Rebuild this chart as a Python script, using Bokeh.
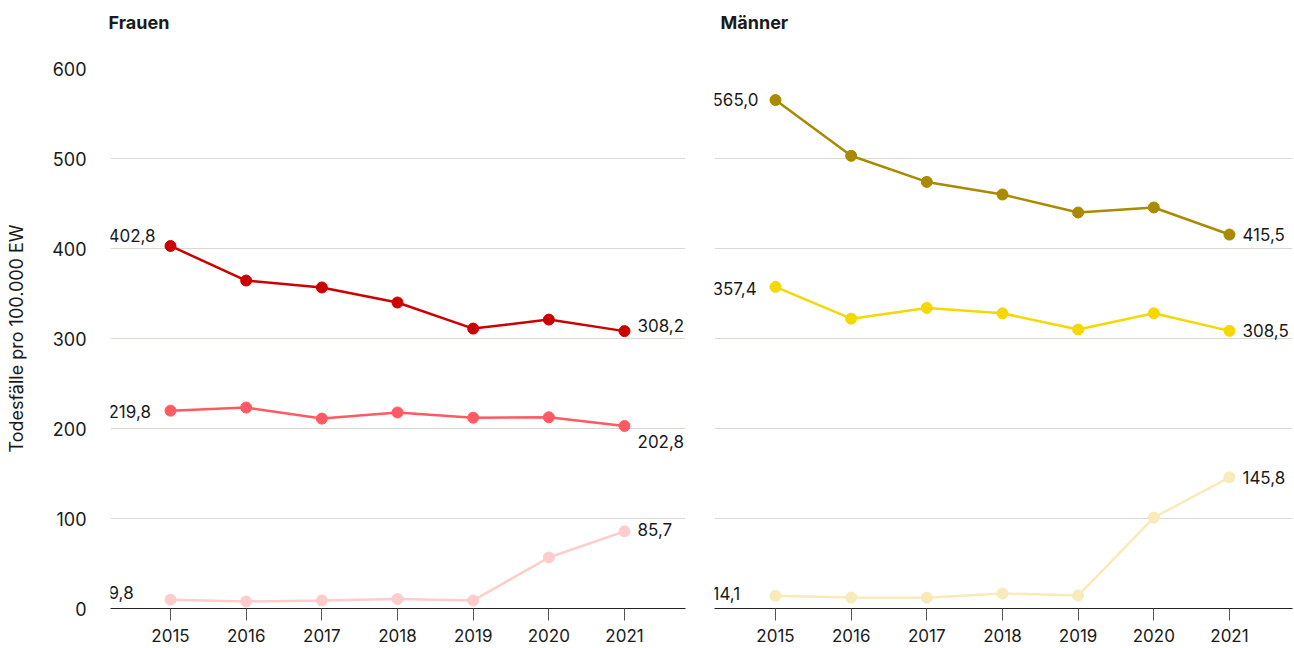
from bokeh.plotting import figure
from bokeh.layouts import row, column
from bokeh.models import ColumnDataSource, Range1d, FixedTicker
from bokeh.embed import file_html
from bokeh.resources import INLINE
from bokeh.core.properties import value

years = [2015, 2016, 2017, 2018, 2019, 2020, 2021]
year_labels = ["2015", "2016", "2017", "2018", "2019", "2020", "2021"]
y_ticks = [0, 100, 200, 300, 400, 500, 600]
panel_titles = ["Frauen", "Männer"]

frauen_oben = [402.8, 364.4, 356.7, 340.0, 311.0, 321.0, 308.2]
frauen_mitte = [219.8, 223.3, 211.0, 217.8, 212.0, 212.5, 202.8]
frauen_unten = [9.8, 7.8, 8.9, 10.5, 8.9, 56.7, 85.7]

maenner_oben = [565.0, 503.0, 474.0, 460.0, 440.0, 445.6, 415.5]
maenner_mitte = [357.4, 322.0, 334.0, 328.0, 310.0, 328.0, 308.5]
maenner_unten = [14.1, 12.2, 12.0, 16.7, 14.4, 101.0, 145.8]

FONT = "Inter"
TXT = "#1a1a1a"
GRID = "#dcd9d4"
HEAD_H = 40


def fmt(v):
    return f"{v:.1f}".replace(".", ",")


def make_head(title, width, text_left):
    h = figure(width=width, height=HEAD_H, output_backend="svg", toolbar_location=None,
               x_range=Range1d(0, width), y_range=Range1d(0, HEAD_H),
               min_border_left=0, min_border_right=0, min_border_top=0, min_border_bottom=0)
    h.axis.visible = False
    h.grid.grid_line_color = None
    h.outline_line_color = None
    h.text(x=[text_left], y=[HEAD_H], text=[title], y_offset=22,
           text_align="left", text_baseline="middle", text_font=value(FONT),
           text_font_style="bold", text_font_size="18px", text_color=TXT)
    return h


def make_fig(width, border_left, border_right, x0, x1, show_y):
    p = figure(width=width, height=648 - HEAD_H, output_backend="svg", toolbar_location=None,
               x_range=Range1d(x0, x1), y_range=Range1d(0, 600),
               min_border_left=border_left, min_border_right=border_right,
               min_border_top=68 - HEAD_H, min_border_bottom=40)
    p.outline_line_color = None
    p.background_fill_color = "white"
    p.border_fill_color = "white"

    p.xgrid.grid_line_color = None
    p.ygrid.grid_line_color = GRID
    p.ygrid.grid_line_width = 1

    xa = p.xaxis[0]
    xa.ticker = FixedTicker(ticks=years)
    xa.major_label_overrides = {y: l for y, l in zip(years, year_labels)}
    xa.axis_line_color = "#222222"
    xa.axis_line_width = 1.2
    xa.major_tick_line_color = "#555555"
    xa.major_tick_out = 12
    xa.major_tick_in = 0
    xa.minor_tick_line_color = None
    xa.major_label_standoff = 8
    xa.major_label_text_font = FONT
    xa.major_label_text_font_size = "17px"
    xa.major_label_text_color = TXT

    ya = p.yaxis[0]
    ya.ticker = FixedTicker(ticks=y_ticks)
    ya.axis_line_color = None
    ya.major_tick_line_color = None
    ya.minor_tick_line_color = None
    if show_y:
        ya.major_label_standoff = 18
        ya.major_label_text_font = FONT
        ya.major_label_text_font_size = "18px"
        ya.major_label_text_color = TXT
        ya.axis_label = "Todesfälle pro 100.000 EW"
        ya.axis_label_text_font = FONT
        ya.axis_label_text_font_style = "normal"
        ya.axis_label_text_font_size = "18px"
        ya.axis_label_text_color = TXT
        ya.axis_label_standoff = 22
    else:
        ya.visible = False
    return p


def add_series(p, vals, color, start_dy, end_dy):
    src = ColumnDataSource(dict(x=years, y=vals))
    p.line("x", "y", source=src, line_color=color, line_width=2.5)
    p.scatter("x", "y", source=src, size=11, fill_color=color, line_color=color)
    p.text(x=[p.x_range.start], y=[vals[0]], text=[fmt(vals[0])], x_offset=-2, y_offset=start_dy,
           text_align="left", text_baseline="middle", text_font=value(FONT),
           text_font_size="17px", text_color=TXT)
    p.text(x=[years[-1]], y=[vals[-1]], text=[fmt(vals[-1])], x_offset=13, y_offset=end_dy,
           text_align="left", text_baseline="middle", text_font=value(FONT),
           text_font_size="17px", text_color=TXT)


W1, W2 = 698, 596
h1 = make_head(panel_titles[0], W1, 108)
h2 = make_head(panel_titles[1], W2, 22)

p1 = make_fig(W1, 110, 13, 2014.207, 2021.806, True)
add_series(p1, frauen_oben, "#cc0000", -10, -6)
add_series(p1, frauen_mitte, "#ff5a63", 1, 16)
add_series(p1, frauen_unten, "#ffcccc", -7, -2)

p2 = make_fig(W2, 16, 2, 2014.194, 2021.833, False)
add_series(p2, maenner_oben, "#a98a00", -1, 0)
add_series(p2, maenner_mitte, "#f5d800", 2, 0)
add_series(p2, maenner_unten, "#f7ebb9", -2, 0)

layout = column(row(h1, h2), row(p1, p2))
open("out.html", "w").write(file_html(layout, INLINE))
